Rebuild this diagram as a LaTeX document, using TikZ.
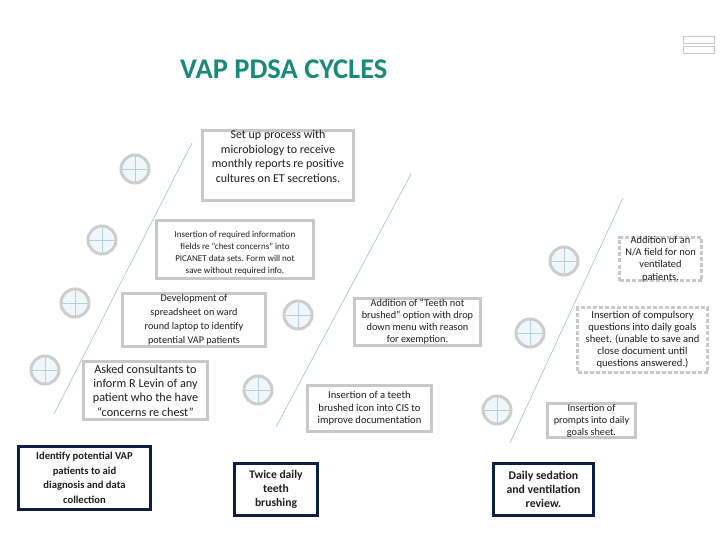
\documentclass[tikz,border=0pt]{standalone}
\usepackage{fontspec}
\setmainfont{Carlito}
\definecolor{teal1}{RGB}{24,138,122}
\definecolor{navy}{RGB}{16,30,70}
\definecolor{boxgrey}{RGB}{200,200,200}
\definecolor{ringgrey}{RGB}{205,205,205}
\definecolor{ringfill}{RGB}{240,247,250}
\definecolor{crossblue}{RGB}{175,210,220}
\definecolor{diagblue}{RGB}{170,200,215}
\definecolor{txt}{RGB}{30,30,30}
% #1 height, #2 width, #3 font size, #4 leading, #5 top shift, #6 text
\newcommand{\boxtxt}[6]{\parbox[c][#1][c]{#2}{\centering\fontsize{#3}{#4}\selectfont\vspace*{#5}#6}}
\begin{document}
\begin{tikzpicture}[x=1pt,y=-1pt,
  gbox/.style={draw=boxgrey, line width=3pt, fill=white, inner sep=0pt, align=center, text=txt},
  dbox/.style={gbox, dash pattern=on 4pt off 2pt},
  nbox/.style={draw=navy, line width=3pt, fill=white, inner sep=0pt, align=center, text=txt, font=\bfseries},
  target/.style={circle, draw=ringgrey, line width=3pt, fill=ringfill, minimum size=28pt, inner sep=0pt,
    path picture={\draw[crossblue, line width=0.8pt] (path picture bounding box.north) -- (path picture bounding box.south)
      (path picture bounding box.west) -- (path picture bounding box.east);}},
  diag/.style={draw=diagblue, line width=0.7pt}
]
\useasboundingbox (0,0) rectangle (720,540);
\fill[white] (0,0) rectangle (720,540);

% top-right icon
\draw[boxgrey, line width=1pt] (683.5,36.5) rectangle (714.5,43.5);
\draw[boxgrey, line width=1pt] (683.5,46.5) rectangle (714.5,53.5);

% title
\node[anchor=base west, inner sep=0pt, text=teal1, font=\fontsize{28.5}{32}\selectfont\bfseries] (title) at (180,78.5) {VAP PDSA CYCLES};

% diagonal lines
\coordinate (l1a) at (192,143); \coordinate (l1b) at (54,414);
\coordinate (l2a) at (411,174); \coordinate (l2b) at (276,427);
\coordinate (l3a) at (623,198); \coordinate (l3b) at (510,443);
\draw[diag] (l1a) -- (l1b);
\draw[diag] (l2a) -- (l2b);
\draw[diag] (l3a) -- (l3b);

% targets
\node[target] (c1) at (135,169) {};
\node[target] (c2) at (102,240) {};
\node[target] (c3) at (75,303) {};
\node[target] (c4) at (45,370) {};
\node[target] (c5) at (298,315) {};
\node[target] (c6) at (258,390) {};
\node[target] (c7) at (564,261) {};
\node[target] (c8) at (530,333) {};
\node[target] (c9) at (497,410) {};

% grey boxes
\node[gbox] (b1) at (278,165.5)
  {\parbox[c][70pt][t]{151pt}{\centering\fontsize{12}{14.5}\selectfont\vspace*{0pt}Set up process with\\microbiology to receive\\monthly reports re positive\\cultures on ET secretions.}};
\node[gbox] (b2) at (235,249.5)
  {\boxtxt{58pt}{157pt}{9}{12}{8pt}{Insertion of required information\\fields re “chest concerns” into\\PICANET data sets. Form will not\\save without required info.}};
\node[gbox] (b3) at (194,320)
  {\boxtxt{53pt}{143pt}{10.2}{14}{0pt}{Development of\\spreadsheet on ward\\round laptop to identify\\potential VAP patients}};
\node[gbox] (b4) at (145.5,390.5)
  {\boxtxt{58pt}{124pt}{12.2}{14.3}{0pt}{Asked consultants to\\inform R Levin of any\\patient who the have\\“concerns re chest”}};
\node[gbox] (b7) at (417.5,322)
  {\boxtxt{47pt}{126pt}{10.3}{12}{0pt}{Addition of “Teeth not\\brushed” option with drop\\down menu with reason\\for exemption.}};
\node[gbox] (b8) at (369.5,408.5)
  {\boxtxt{46pt}{124pt}{10.6}{12.5}{0pt}{Insertion of a teeth\\brushed icon into CIS to\\improve documentation}};
\node[dbox] (b9) at (660.5,259)
  {\boxtxt{43pt}{82pt}{10.4}{12.3}{0pt}{Addition of an\\N/A field for non\\ventilated\\patients.}};
\node[dbox] (b10) at (642.5,340)
  {\boxtxt{65pt}{130pt}{10.6}{12}{0pt}{Insertion of compulsory\\questions into daily goals\\sheet. (unable to save and\\close document until\\questions answered.)}};
\node[gbox] (b11) at (591.5,420.5)
  {\boxtxt{34pt}{88pt}{10.2}{12}{0pt}{Insertion of\\prompts into daily\\goals sheet.}};

% navy boxes
\node[nbox] (b5) at (84.5,478)
  {\boxtxt{63pt}{132pt}{10.6}{14.5}{0pt}{Identify potential VAP\\patients to aid\\diagnosis and data\\collection}};
\node[nbox] (b6) at (276,489.5)
  {\boxtxt{52pt}{83pt}{11.6}{14}{0pt}{Twice daily\\teeth\\brushing}};
\node[nbox] (b12) at (543.5,489.5)
  {\boxtxt{52pt}{100pt}{11.8}{14}{0pt}{Daily sedation\\and ventilation\\review.}};
\end{tikzpicture}
\end{document}
